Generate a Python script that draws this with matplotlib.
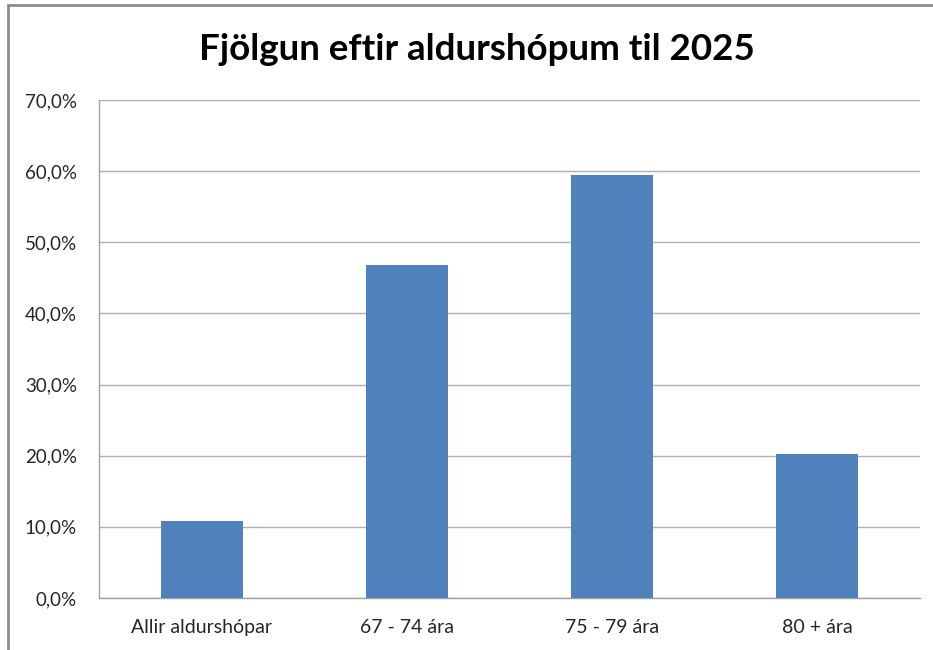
import matplotlib
matplotlib.use("Agg")
import matplotlib.pyplot as plt
from matplotlib.patches import Rectangle
from matplotlib.ticker import FuncFormatter

categories = ["Allir aldurshópar", "67 - 74 ára", "75 - 79 ára", "80 + ára"]
values = [10.8, 46.8, 59.5, 20.3]
title = "Fjölgun eftir aldurshópum til 2025"

W, H = 933, 650
fig = plt.figure(figsize=(W / 100, H / 100), dpi=100)
fig.patch.set_facecolor("white")

# outer chart frame (extends past right/bottom edges)
fig.patches.append(Rectangle((8 / W, -0.05), 1.1, 1 - 5 / H + 0.05,
                             transform=fig.transFigure, fill=False,
                             edgecolor="#8c8c8c", linewidth=2))

left, right, top, bottom = 99, 920, 100, 598
ax = fig.add_axes([left / W, 1 - bottom / H, (right - left) / W, (bottom - top) / H])

x = range(len(categories))
ax.bar(x, values, width=0.4, color="#4f81bd", zorder=3)
ax.set_xlim(-0.5, len(categories) - 0.5)
ax.set_ylim(0, 70)
ax.set_yticks(range(0, 71, 10))
ax.yaxis.set_major_formatter(FuncFormatter(lambda v, p: f"{v:.1f}%".replace(".", ",")))
ax.set_xticks(list(x))
ax.set_xticklabels(categories)
ax.grid(axis="y", color="#b0b0b0", linewidth=1, zorder=0)
for s in ["top", "right"]:
    ax.spines[s].set_visible(False)
for s in ["left", "bottom"]:
    ax.spines[s].set_color("#a0a0a0")
    ax.spines[s].set_linewidth(1)
ax.tick_params(axis="both", length=0, colors="#262626")
ax.tick_params(axis="y", labelsize=13.5, pad=16)
ax.tick_params(axis="x", labelsize=14, pad=15)
for lbl in ax.get_xticklabels() + ax.get_yticklabels():
    lbl.set_family("Lato")

fig.text(477 / W, 1 - 50 / H, title, ha="center", va="center",
         fontsize=26.5, fontweight="bold", family="Lato", color="black")

fig.savefig("out.png", dpi=100)
